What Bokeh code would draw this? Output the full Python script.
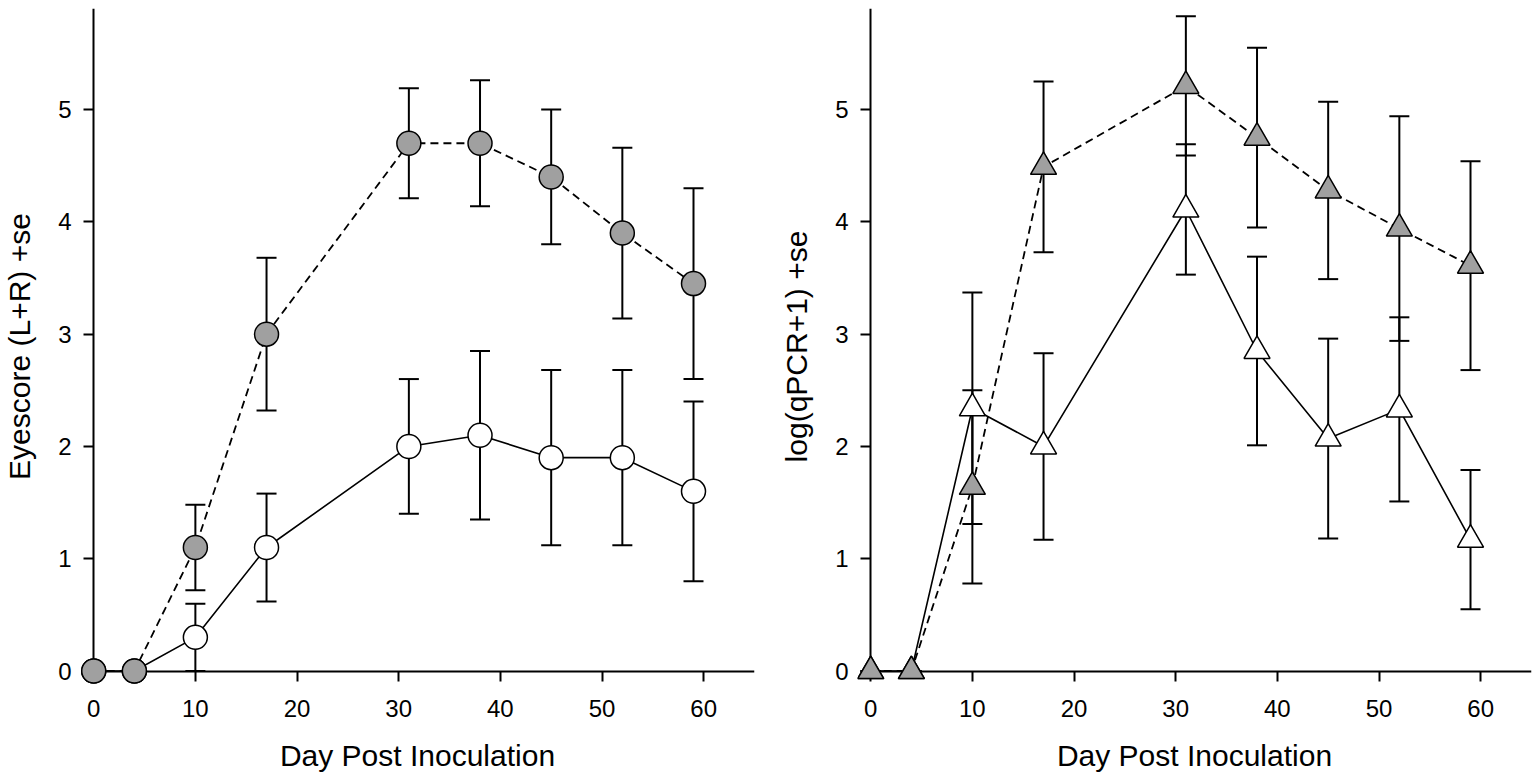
from bokeh.plotting import figure
from bokeh.models import (ColumnDataSource, Range1d, FixedTicker, Whisker, TeeHead,
                          LinearAxis)
from bokeh.layouts import row
from bokeh.embed import file_html
from bokeh.resources import INLINE

# ---------------- data ----------------
days = [0, 4, 10, 17, 31, 38, 45, 52, 59]

# Left panel: Eyescore (L+R) +se
eye_gray = [0, 0, 1.10, 3.00, 4.70, 4.70, 4.40, 3.90, 3.45]
eye_gray_se = [0, 0, 0.38, 0.68, 0.49, 0.56, 0.60, 0.76, 0.85]
eye_white = [0, 0, 0.30, 1.10, 2.00, 2.10, 1.90, 1.90, 1.60]
eye_white_se = [0, 0, 0.30, 0.48, 0.60, 0.75, 0.78, 0.78, 0.80]

# Right panel: log(qPCR+1) +se
qpcr_gray = [0, 0, 1.64, 4.49, 5.21, 4.75, 4.28, 3.94, 3.61]
qpcr_gray_se = [0, 0, 0.86, 0.76, 0.62, 0.80, 0.79, 1.00, 0.93]
qpcr_white = [0, 0, 2.34, 2.00, 4.11, 2.85, 2.07, 2.33, 1.17]
qpcr_white_se = [0, 0, 1.03, 0.83, 0.58, 0.84, 0.89, 0.82, 0.62]

x_ticks = [0, 10, 20, 30, 40, 50, 60]
y_ticks = [0, 1, 2, 3, 4, 5]
x_title = "Day Post Inoculation"
left_title = "Eyescore (L+R) +se"
right_title = "log(qPCR+1) +se"

FONT = "Liberation Sans"
GRAY = "#a0a0a0"

X0, X1 = -1.3, 65
Y0, Y1 = -0.12, 5.9


def make_panel(ytitle, gray, gray_se, white, white_se, marker, msize,
               border_left, border_right, ytitle_standoff):
    p = figure(frame_width=674, frame_height=676,
               x_range=Range1d(X0, X1), y_range=Range1d(Y0, Y1),
               output_backend="svg", toolbar_location=None,
               min_border_left=border_left, min_border_right=border_right,
               min_border_top=8, min_border_bottom=0)
    p.outline_line_color = None
    p.grid.visible = False
    p.background_fill_color = "white"
    p.border_fill_color = "white"

    # label-only axes at the frame edges (tick labels + titles)
    xl = p.xaxis[0]
    yl = p.yaxis[0]
    for ax in (xl, yl):
        ax.axis_line_color = None
        ax.major_tick_line_color = None
        ax.minor_tick_line_color = None
        ax.major_tick_in = 0
        ax.major_tick_out = 0
        ax.minor_tick_in = 0
        ax.minor_tick_out = 0
        ax.major_label_text_font = FONT
        ax.major_label_text_font_size = "24px"
        ax.major_label_text_color = "black"
        ax.axis_label_text_font = FONT
        ax.axis_label_text_font_size = "30px"
        ax.axis_label_text_font_style = "normal"
        ax.axis_label_text_color = "black"
    xl.ticker = FixedTicker(ticks=x_ticks)
    yl.ticker = FixedTicker(ticks=y_ticks)
    xl.axis_label = x_title
    yl.axis_label = ytitle
    xl.major_label_standoff = 15
    yl.major_label_standoff = 9
    xl.axis_label_standoff = 19
    yl.axis_label_standoff = ytitle_standoff

    # axis lines + ticks crossing at the data origin
    for side, ticks, bounds in (("below", x_ticks, (0, X1)), ("left", y_ticks, (0, Y1))):
        ax = LinearAxis(fixed_location=0, ticker=FixedTicker(ticks=ticks),
                        bounds=bounds, level="underlay",
                        axis_line_width=2, axis_line_color="black",
                        major_tick_line_width=2, major_tick_line_color="black",
                        major_tick_in=0, major_tick_out=10,
                        minor_tick_line_color=None,
                        major_label_text_color=None)
        p.add_layout(ax, side)

    sw = ColumnDataSource(dict(x=days, y=white,
                               upper=[v + s for v, s in zip(white, white_se)],
                               lower=[v - s for v, s in zip(white, white_se)]))
    sg = ColumnDataSource(dict(x=days, y=gray,
                               upper=[v + s for v, s in zip(gray, gray_se)],
                               lower=[v - s for v, s in zip(gray, gray_se)]))

    for src in (sw, sg):
        w = Whisker(base="x", upper="upper", lower="lower", source=src,
                    line_color="black", line_width=2, level="underlay",
                    upper_head=TeeHead(size=20, line_width=2, line_color="black"),
                    lower_head=TeeHead(size=20, line_width=2, line_color="black"))
        p.add_layout(w)

    p.line("x", "y", source=sw, line_color="black", line_width=1.6)
    p.line("x", "y", source=sg, line_color="black", line_width=1.8, line_dash="8 5")
    p.scatter("x", "y", source=sw, marker=marker, size=msize,
              fill_color="white", line_color="black", line_width=1.5)
    p.scatter("x", "y", source=sg, marker=marker, size=msize,
              fill_color=GRAY, line_color="black", line_width=1.5)
    return p


p1 = make_panel(left_title, eye_gray, eye_gray_se, eye_white, eye_white_se,
                "circle", 24, 79, 23, 19)
p2 = make_panel(right_title, qpcr_gray, qpcr_gray_se, qpcr_white, qpcr_white_se,
                "triangle", 26, 79, 3, 19)

layout = row(p1, p2)
open("out.html", "w").write(file_html(layout, INLINE))
